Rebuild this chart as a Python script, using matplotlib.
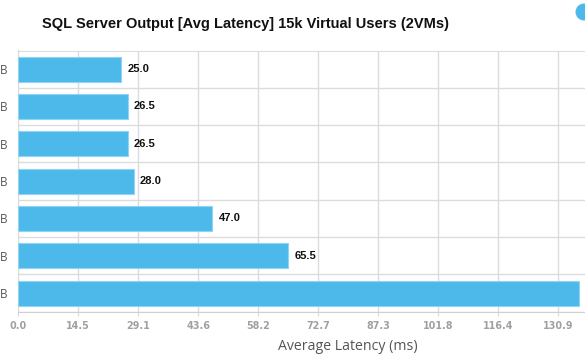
import matplotlib
matplotlib.use("Agg")
import matplotlib.pyplot as plt
import numpy as np
from matplotlib.patches import Circle

categories = ["B", "B", "B", "B", "B", "B", "B"]
values = [25.0, 26.5, 26.5, 28.0, 47.0, 65.5, 136.0]
# the label of the last bar lies beyond the visible chart edge in the reference
value_labels = ["25.0", "26.5", "26.5", "28.0", "47.0", "65.5", None]
x_max = 145.45
title = "SQL Server Output [Avg Latency] 15k Virtual Users (2VMs)"
x_title = "Average Latency (ms)"

W, H = 585, 355
fig = plt.figure(figsize=(W / 100, H / 100), dpi=100)
fig.patch.set_facecolor("white")

left_px, right_px, top_px, bot_px = 18.3, 618.3, 50.5, 311.7
ax = fig.add_axes([left_px / W, 1 - bot_px / H, (right_px - left_px) / W, (bot_px - top_px) / H])

y = np.arange(len(values))
ax.barh(y, values, height=0.67, color="#4DB9EB", edgecolor="#8FD3F5", linewidth=0.8, zorder=3)
ax.set_ylim(len(values) - 0.5, -0.5)
ax.set_xlim(0, x_max)

xticks = np.linspace(0, x_max, 11)
ax.set_xticks(xticks)
xt_labels = [f"{t:.1f}" for t in xticks]
xt_labels[-1] = ""  # beyond the visible edge
ax.set_xticklabels(xt_labels, fontsize=6.9, color="#a0a0a0",
                   fontweight="bold", family="DejaVu Sans")
ax.set_yticks(y)
ax.set_yticklabels(categories, fontsize=8.5, color="#555555", family="Open Sans")
ax.set_yticks(np.arange(len(values) + 1) - 0.5, minor=True)
ax.tick_params(axis="y", which="both", length=0, pad=8)
ax.tick_params(axis="x", which="major", length=3, color="#d9d9d9", pad=4)

ax.grid(axis="x", which="major", color="#dcdcdc", linewidth=1, zorder=0)
ax.grid(axis="y", which="minor", color="#dcdcdc", linewidth=1, zorder=0)
ax.spines["right"].set_visible(False)
ax.spines["top"].set_color("#dcdcdc")
ax.spines["left"].set_color("#dcdcdc")
ax.spines["bottom"].set_color("#d0d0d0")

for yi, v, lab in zip(y, values, value_labels):
    if lab is None:
        continue
    ax.annotate(lab, (v, yi), xytext=(4.5, 0), textcoords="offset points",
                va="center", ha="left", fontsize=8, fontweight="bold",
                color="#111111", family="Liberation Sans", annotation_clip=False, zorder=4)

fig.text(246 / W, 1 - 24 / H, title, ha="center", va="center", fontsize=10.5,
         fontweight="bold", color="#111111", family="Liberation Sans")
fig.text(348 / W, 1 - 347 / H, x_title, ha="center", va="center", fontsize=10.2,
         color="#555555", family="Open Sans")

fig.patches.append(Circle((5.84, 3.43), 0.085, transform=fig.dpi_scale_trans,
                          facecolor="#4DB9EB", edgecolor="none"))

fig.savefig("out.png", dpi=100)
